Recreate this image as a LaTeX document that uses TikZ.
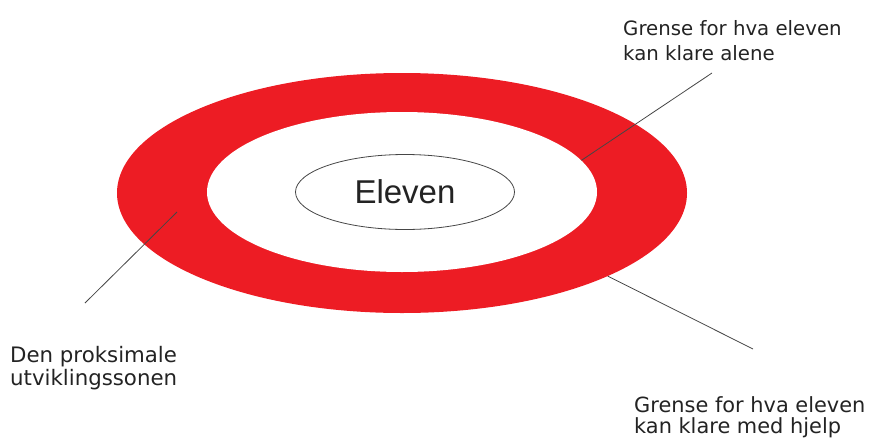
\documentclass[tikz,border=0pt]{standalone}
\usepackage{fontspec}
\setmainfont{Liberation Sans}
\newfontfamily\labelfont{DejaVu Sans}
\usetikzlibrary{shapes.geometric}
\definecolor{ringred}{RGB}{237,28,36}
\definecolor{linegray}{RGB}{70,70,70}
\definecolor{textgray}{RGB}{35,35,35}
\begin{document}
\begin{tikzpicture}[x=1pt,y=-1pt,
  lbl/.style={anchor=north west, inner sep=0pt, align=left, text=textgray},
  leader/.style={draw=linegray, line width=0.8pt},
  disc/.style={ellipse, inner sep=0pt}
  ]
\useasboundingbox (0,0) rectangle (877,439);
\node[disc, fill=ringred, minimum width=570pt, minimum height=240pt] (outer) at (402,193) {};
\node[disc, fill=white, minimum width=390pt, minimum height=160pt] (inner) at (402,192) {};
\node[disc, draw=linegray, line width=0.8pt, fill=white, minimum width=219pt, minimum height=75pt,
      font=\fontsize{33}{40}\selectfont, text=textgray] (eleven) at (405,192) {Eleven};

\node[lbl, font=\labelfont\fontsize{19.75}{25}\selectfont] (topLabel) at (623,20)
  {Grense for hva eleven\\kan klare alene};
\node[lbl, font=\labelfont\fontsize{21.3}{23}\selectfont] (leftLabel) at (10,346)
  {Den proksimale\\utviklingssonen};
\node[lbl, font=\labelfont\fontsize{20.9}{21}\selectfont] (rightLabel) at (634,396)
  {Grense for hva eleven\\kan klare med hjelp};

\coordinate (tEnd) at (712,73);
\coordinate (lStart) at (177,212);
\coordinate (lEnd) at (85,303);
\coordinate (bEnd) at (753,349);
\draw[leader] (inner.10) -- (tEnd);
\draw[leader] (lStart) -- (lEnd);
\draw[leader] (outer.-22.7) -- (bEnd);
\end{tikzpicture}
\end{document}
